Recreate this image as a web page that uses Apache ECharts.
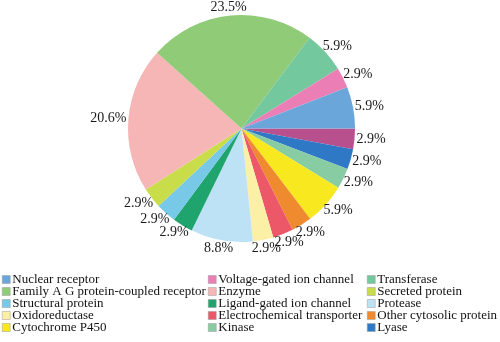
<!DOCTYPE html>
<html>
<head>
<meta charset="utf-8">
<script src="https://cdn.jsdelivr.net/npm/echarts@6/dist/echarts.min.js"></script>
<style>
  html, body { margin: 0; padding: 0; background: #fff; }
  #chart { width: 500px; height: 342px; }
</style>
</head>
<body>
<div id="chart"></div>
<script>
// Slice order runs clockwise from 3 o'clock
const categories = [
  'Other', 'Lyase', 'Kinase', 'Cytochrome P450', 'Other cytosolic protein',
  'Electrochemical transporter', 'Oxidoreductase', 'Protease', 'Ligand-gated ion channel',
  'Structural protein', 'Secreted protein', 'Enzyme', 'Family A G protein-coupled receptor',
  'Transferase', 'Voltage-gated ion channel', 'Nuclear receptor'
];
const percents = [2.9, 2.9, 2.9, 5.9, 2.9, 2.9, 2.9, 8.8, 2.9, 2.9, 2.9, 20.6, 23.5, 5.9, 2.9, 5.9];
const colors = [
  '#b9508e', '#2f78c6', '#88cca4', '#f7e820', '#ef8a2e',
  '#ec5868', '#fbf0a6', '#bde2f6', '#20a46e',
  '#78c8e8', '#c9dc4a', '#f6b6b6', '#90cb78',
  '#74c89e', '#ec7eb6', '#6aa6da'
];

// Legend columns
const legendCol1 = ['Nuclear receptor', 'Family A G protein-coupled receptor', 'Structural protein', 'Oxidoreductase', 'Cytochrome P450'];
const legendCol2 = ['Voltage-gated ion channel', 'Enzyme', 'Ligand-gated ion channel', 'Electrochemical transporter', 'Kinase'];
const legendCol3 = ['Transferase', 'Secreted protein', 'Protease', 'Other cytosolic protein', 'Lyase'];

const serif = '"Liberation Serif", "DejaVu Serif", serif';
const pieCenter = [241.5, 128.5];
const pieRadius = 113.5;

// Mid angle (radians, clockwise from 3 o'clock) of each slice
const totalPct = percents.reduce((a, b) => a + b, 0);
const midAngles = [];
percents.reduce((acc, v) => {
  midAngles.push((acc + v / 2) / totalPct * Math.PI * 2);
  return acc + v;
}, 0);

function legendColumn(names, left, textWidth) {
  return {
    orient: 'vertical',
    left: left,
    top: 273,
    data: names,
    icon: 'rect',
    itemWidth: 8,
    itemHeight: 8,
    itemGap: -1,
    padding: 0,
    selectedMode: false,
    itemStyle: { borderColor: '#9a9a9a', borderWidth: 0.5 },
    textStyle: {
      fontFamily: serif,
      fontSize: 13,
      color: '#111',
      padding: [0, 0, 0, -3],
      width: textWidth,
      overflow: 'truncate',
      ellipsis: ''
    }
  };
}

const chart = echarts.init(document.getElementById('chart'), null, { renderer: 'canvas' });
chart.setOption({
  animation: false,
  backgroundColor: '#ffffff',
  color: colors,
  legend: [
    legendColumn(legendCol1, 2, 196),
    legendColumn(legendCol2, 208, 150),
    legendColumn(legendCol3, 367, 140)
  ],
  series: [{
    type: 'pie',
    center: pieCenter,
    radius: pieRadius,
    startAngle: 0,
    clockwise: true,
    avoidLabelOverlap: false,
    itemStyle: { borderWidth: 0 },
    label: {
      show: true,
      position: 'outside',
      formatter: '{c}%',
      fontFamily: serif,
      fontSize: 14,
      color: '#1a1a1a'
    },
    labelLine: { show: false, length: 4, length2: 2 },
    // Each label sits just outside the rim on its slice's mid angle
    labelLayout: function (params) {
      const a = midAngles[params.dataIndex];
      const c = Math.cos(a), s = Math.sin(a);
      const gap = 2;
      const hw = params.labelRect.width / 2;
      const hh = 6.5;
      return {
        x: pieCenter[0] + c * (pieRadius + gap) + c * hw,
        y: pieCenter[1] + s * (pieRadius + gap) + s * hh,
        align: 'center',
        verticalAlign: 'middle',
        hideOverlap: false,
        moveOverlap: null
      };
    },
    emphasis: { disabled: true },
    data: categories.map((name, i) => ({ name: name, value: percents[i] }))
  }]
});
</script>
</body>
</html>
